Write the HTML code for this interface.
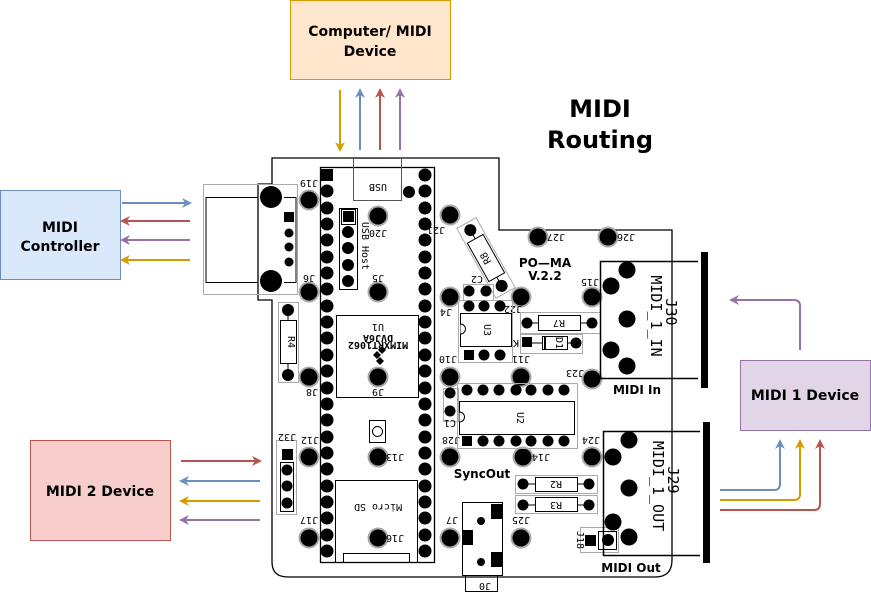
<!DOCTYPE html>
<html><head><meta charset="utf-8"><style>
body{margin:0;background:#fff}
svg{display:block}
.t{font-family:"DejaVu Sans","Liberation Sans",sans-serif;font-weight:bold}
.s{font-family:"DejaVu Sans Mono","Liberation Mono",monospace;font-size:10px}
</style></head><body>
<svg width="871" height="598" viewBox="0 0 871 598" xmlns="http://www.w3.org/2000/svg">
<defs>
<g id="pad"><circle r="10.5" fill="#aaa"/><circle r="8.5" fill="#000"/></g>
<marker id="ab" markerWidth="10" markerHeight="10" refX="8" refY="5" orient="auto" markerUnits="userSpaceOnUse"><path d="M0,0 L10,5 L0,10 L3,5 Z" fill="#6c8ebf"/></marker>
<marker id="ar" markerWidth="10" markerHeight="10" refX="8" refY="5" orient="auto" markerUnits="userSpaceOnUse"><path d="M0,0 L10,5 L0,10 L3,5 Z" fill="#b85450"/></marker>
<marker id="ap" markerWidth="10" markerHeight="10" refX="8" refY="5" orient="auto" markerUnits="userSpaceOnUse"><path d="M0,0 L10,5 L0,10 L3,5 Z" fill="#9673a6"/></marker>
<marker id="ao" markerWidth="10" markerHeight="10" refX="8" refY="5" orient="auto" markerUnits="userSpaceOnUse"><path d="M0,0 L10,5 L0,10 L3,5 Z" fill="#d79b00"/></marker>
</defs>

<rect x="290.5" y="0.5" width="160" height="79" fill="#ffe6cc" stroke="#d79b00"/>
<text class="t" x="370" y="36" font-size="14" text-anchor="middle">Computer/ MIDI</text>
<text class="t" x="370" y="56" font-size="14" text-anchor="middle">Device</text>
<rect x="0.5" y="190.5" width="120" height="89" fill="#dae8fc" stroke="#6c8ebf"/>
<text class="t" x="60" y="232" font-size="14" text-anchor="middle">MIDI</text>
<text class="t" x="60" y="251" font-size="14" text-anchor="middle">Controller</text>
<rect x="30.5" y="440.5" width="140" height="100" fill="#f8cecc" stroke="#b85450"/>
<text class="t" x="100" y="496" font-size="14" text-anchor="middle">MIDI 2 Device</text>
<rect x="740.5" y="360.5" width="130" height="70" fill="#e1d5e7" stroke="#9673a6"/>
<text class="t" x="805" y="400" font-size="14" text-anchor="middle">MIDI 1 Device</text>

<text class="t" x="600" y="117" font-size="24" text-anchor="middle">MIDI</text>
<text class="t" x="600" y="148" font-size="24" text-anchor="middle">Routing</text>

<g stroke-width="2" fill="none">
<line x1="340" y1="90" x2="340" y2="150" stroke="#d79b00" marker-end="url(#ao)"/>
<line x1="360" y1="150" x2="360" y2="90" stroke="#6c8ebf" marker-end="url(#ab)"/>
<line x1="380" y1="150" x2="380" y2="90" stroke="#b85450" marker-end="url(#ar)"/>
<line x1="400" y1="150" x2="400" y2="90" stroke="#9673a6" marker-end="url(#ap)"/>
<line x1="122" y1="203" x2="190" y2="203" stroke="#6c8ebf" marker-end="url(#ab)"/>
<line x1="190" y1="221" x2="122" y2="221" stroke="#b85450" marker-end="url(#ar)"/>
<line x1="190" y1="240" x2="122" y2="240" stroke="#9673a6" marker-end="url(#ap)"/>
<line x1="190" y1="260" x2="122" y2="260" stroke="#d79b00" marker-end="url(#ao)"/>
<line x1="181" y1="461" x2="260" y2="461" stroke="#b85450" marker-end="url(#ar)"/>
<line x1="260" y1="481" x2="181" y2="481" stroke="#6c8ebf" marker-end="url(#ab)"/>
<line x1="260" y1="501" x2="181" y2="501" stroke="#d79b00" marker-end="url(#ao)"/>
<line x1="260" y1="520" x2="181" y2="520" stroke="#9673a6" marker-end="url(#ap)"/>
<path d="M800,350 V306 Q800,300 794,300 H731" stroke="#9673a6" marker-end="url(#ap)"/>
<path d="M720,490 H774 Q780,490 780,484 V441" stroke="#6c8ebf" marker-end="url(#ab)"/>
<path d="M720,500 H794 Q800,500 800,494 V441" stroke="#d79b00" marker-end="url(#ao)"/>
<path d="M720,510 H814 Q820,510 820,504 V441" stroke="#b85450" marker-end="url(#ar)"/>
</g>

<path d="M272,184 V158 H499 V230 H672 V560 Q672,577 655,577 H288 Q272,577 272,562 V300 H258 V184 Z" fill="none" stroke="#000" stroke-width="1.3"/>

<rect x="203.5" y="184.5" width="94" height="110" fill="none" stroke="#aaa"/>
<path d="M258,197.5 H206 V282.5 H258 M284,197.5 H296 V282.5 H284" fill="none" stroke="#000"/>
<circle cx="271" cy="197" r="11"/><circle cx="271" cy="281" r="11"/>
<rect x="284" y="212" width="10" height="10"/>
<circle cx="289" cy="233" r="4.5"/><circle cx="289" cy="247" r="4.5"/><circle cx="289" cy="262" r="4.5"/>

<rect x="320.5" y="167.5" width="114" height="395" fill="none" stroke="#000" stroke-width="1.3"/>
<rect x="353.5" y="158.5" width="48" height="42" fill="none" stroke="#555"/>
<text class="s" x="378" y="190" text-anchor="middle" transform="rotate(180 378 187)">USB</text>
<circle cx="409" cy="192" r="6"/>
<g>
<rect x="321" y="169" width="12" height="12"/>
<circle cx="327" cy="191" r="6.5"/><circle cx="327" cy="208" r="6.5"/><circle cx="327" cy="224" r="6.5"/><circle cx="327" cy="240" r="6.5"/><circle cx="327" cy="257" r="6.5"/><circle cx="327" cy="273" r="6.5"/><circle cx="327" cy="289" r="6.5"/><circle cx="327" cy="306" r="6.5"/><circle cx="327" cy="322" r="6.5"/><circle cx="327" cy="338" r="6.5"/><circle cx="327" cy="355" r="6.5"/><circle cx="327" cy="371" r="6.5"/><circle cx="327" cy="388" r="6.5"/><circle cx="327" cy="404" r="6.5"/><circle cx="327" cy="420" r="6.5"/><circle cx="327" cy="437" r="6.5"/><circle cx="327" cy="453" r="6.5"/><circle cx="327" cy="469" r="6.5"/><circle cx="327" cy="486" r="6.5"/><circle cx="327" cy="502" r="6.5"/><circle cx="327" cy="518" r="6.5"/><circle cx="327" cy="535" r="6.5"/><circle cx="327" cy="551" r="6.5"/>
<circle cx="425" cy="175" r="6.5"/><circle cx="425" cy="191" r="6.5"/><circle cx="425" cy="208" r="6.5"/><circle cx="425" cy="224" r="6.5"/><circle cx="425" cy="240" r="6.5"/><circle cx="425" cy="257" r="6.5"/><circle cx="425" cy="273" r="6.5"/><circle cx="425" cy="289" r="6.5"/><circle cx="425" cy="306" r="6.5"/><circle cx="425" cy="322" r="6.5"/><circle cx="425" cy="338" r="6.5"/><circle cx="425" cy="355" r="6.5"/><circle cx="425" cy="371" r="6.5"/><circle cx="425" cy="388" r="6.5"/><circle cx="425" cy="404" r="6.5"/><circle cx="425" cy="420" r="6.5"/><circle cx="425" cy="437" r="6.5"/><circle cx="425" cy="453" r="6.5"/><circle cx="425" cy="469" r="6.5"/><circle cx="425" cy="486" r="6.5"/><circle cx="425" cy="502" r="6.5"/><circle cx="425" cy="518" r="6.5"/><circle cx="425" cy="535" r="6.5"/><circle cx="425" cy="551" r="6.5"/>
</g>
<rect x="339.5" y="208.5" width="18" height="81" fill="none" stroke="#000"/>
<rect x="341.5" y="209.5" width="14" height="15" fill="none" stroke="#000"/>
<rect x="343" y="211" width="11" height="11"/>
<circle cx="348" cy="232" r="6"/><circle cx="348" cy="248" r="6"/><circle cx="348" cy="265" r="6"/><circle cx="348" cy="281" r="6"/>
<text class="s" x="362" y="246" transform="rotate(90 362 246)" text-anchor="middle" font-size="10">USB Host</text>
<rect x="336.5" y="315.5" width="82" height="82" fill="none" stroke="#000"/>
<text class="s" x="378" y="330" text-anchor="middle" transform="rotate(180 378 327)">U1</text>
<text class="s" x="378" y="341" text-anchor="middle" font-size="7" font-weight="bold" transform="rotate(180 378 338)">DVJ6A</text>
<text class="s" x="378" y="348" text-anchor="middle" font-size="7" font-weight="bold" transform="rotate(180 378 345)">MIMXRT1062</text>
<path d="M373,355 l4,-4 l4,4 l-4,4z M378,350 l4,-4 l4,4 l-4,4z M376,361 l4,-4 l4,4 l-4,4z" fill="#000"/>
<rect x="369.5" y="420.5" width="16" height="22" fill="none" stroke="#000"/>
<circle cx="377.5" cy="431.5" r="5" fill="none" stroke="#000"/>
<rect x="335.5" y="480.5" width="82" height="82" fill="none" stroke="#000"/>
<rect x="343.5" y="553.5" width="66" height="9" fill="none" stroke="#000"/>
<text class="s" x="378" y="510" text-anchor="middle" transform="rotate(180 378 507)">Micro SD</text>

<rect x="278.5" y="302.5" width="20" height="80" fill="none" stroke="#aaa"/>
<rect x="280.5" y="320.5" width="16" height="43" fill="none" stroke="#000"/>
<line x1="288" y1="312" x2="288" y2="320" stroke="#000"/><line x1="288" y1="364" x2="288" y2="372" stroke="#000"/>
<circle cx="288" cy="310" r="6"/><circle cx="288" cy="375" r="6"/>
<text class="s" x="288" y="342" text-anchor="middle" transform="rotate(90 288 342)">R4</text>
<rect x="276.5" y="440.5" width="20" height="74" fill="none" stroke="#aaa"/>
<rect x="280.5" y="462.5" width="13" height="49" fill="none" stroke="#000"/>
<rect x="282" y="449" width="11" height="11"/>
<circle cx="287" cy="470" r="5.5"/><circle cx="287" cy="486" r="5.5"/><circle cx="287" cy="503" r="5.5"/>
<text class="s" x="287" y="440" text-anchor="middle" transform="rotate(180 287 437)">J32</text>

<use href="#pad" x="309" y="200"/><use href="#pad" x="378" y="216"/><use href="#pad" x="450" y="215"/>
<use href="#pad" x="538" y="237"/><use href="#pad" x="608" y="237"/>
<use href="#pad" x="309" y="292"/><use href="#pad" x="378" y="292"/><use href="#pad" x="450" y="297"/><use href="#pad" x="521" y="297"/><use href="#pad" x="592" y="297"/>
<use href="#pad" x="309" y="377"/><use href="#pad" x="378" y="377"/><use href="#pad" x="450" y="377"/><use href="#pad" x="521" y="377"/><use href="#pad" x="592" y="379"/>
<use href="#pad" x="309" y="457"/><use href="#pad" x="378" y="457"/><use href="#pad" x="450" y="457"/><use href="#pad" x="523" y="457"/><use href="#pad" x="592" y="457"/>
<use href="#pad" x="309" y="538"/><use href="#pad" x="378" y="538"/><use href="#pad" x="450" y="538"/><use href="#pad" x="521" y="538"/>
<g class="s">
<text x="309" y="186" text-anchor="middle" transform="rotate(180 309 183)">J19</text>
<text x="378" y="236" text-anchor="middle" transform="rotate(180 378 233)">J20</text>
<text x="436" y="233" text-anchor="middle" transform="rotate(180 436 230)">J21</text>
<text x="556" y="240" text-anchor="middle" transform="rotate(180 556 237)">J27</text>
<text x="626" y="240" text-anchor="middle" transform="rotate(180 626 237)">J26</text>
<text x="309" y="281" text-anchor="middle" transform="rotate(180 309 278)">J6</text>
<text x="378" y="281" text-anchor="middle" transform="rotate(180 378 278)">J5</text>
<text x="446" y="315" text-anchor="middle" transform="rotate(180 446 312)">J4</text>
<text x="513" y="312" text-anchor="middle" transform="rotate(180 513 309)">J22</text>
<text x="590" y="285" text-anchor="middle" transform="rotate(180 590 282)">J15</text>
<text x="312" y="395" text-anchor="middle" transform="rotate(180 312 392)">J8</text>
<text x="378" y="395" text-anchor="middle" transform="rotate(180 378 392)">J9</text>
<text x="448" y="362" text-anchor="middle" transform="rotate(180 448 359)">J10</text>
<text x="521" y="362" text-anchor="middle" transform="rotate(180 521 359)">J11</text>
<text x="575" y="376" text-anchor="middle" transform="rotate(180 575 373)">J23</text>
<text x="310" y="443" text-anchor="middle" transform="rotate(180 310 440)">J12</text>
<text x="395" y="460" text-anchor="middle" transform="rotate(180 395 457)">J13</text>
<text x="451" y="443" text-anchor="middle" transform="rotate(180 451 440)">J28</text>
<text x="541" y="460" text-anchor="middle" transform="rotate(180 541 457)">J14</text>
<text x="591" y="443" text-anchor="middle" transform="rotate(180 591 440)">J24</text>
<text x="309" y="523" text-anchor="middle" transform="rotate(180 309 520)">J17</text>
<text x="395" y="541" text-anchor="middle" transform="rotate(180 395 538)">J16</text>
<text x="452" y="523" text-anchor="middle" transform="rotate(180 452 520)">J7</text>
<text x="521" y="523" text-anchor="middle" transform="rotate(180 521 520)">J25</text>
</g>

<g transform="translate(486,258) rotate(60.7)">
<rect x="-40" y="-11" width="80" height="22" fill="none" stroke="#aaa"/>
<rect x="-22" y="-9" width="44" height="18" fill="none" stroke="#000"/>
<line x1="-30" y1="0" x2="-22" y2="0" stroke="#000"/><line x1="22" y1="0" x2="30" y2="0" stroke="#000"/>
<circle cx="-32" cy="0" r="6"/><circle cx="32" cy="0" r="6"/>
<text class="s" x="0" y="3" text-anchor="middle" transform="rotate(180 0 0)">R8</text>
</g>
<rect x="463.5" y="284.5" width="30" height="16" fill="none" stroke="#aaa"/>
<circle cx="469" cy="291" r="5.5"/><circle cx="486" cy="291" r="5.5"/>
<text class="s" x="477" y="282" text-anchor="middle" transform="rotate(180 477 279)">C2</text>
<rect x="458.5" y="300.5" width="54" height="62" fill="none" stroke="#aaa"/>
<rect x="460.5" y="313.5" width="51" height="33" fill="none" stroke="#000"/>
<path d="M460.5,324 A5,5 0 0 1 460.5,334" fill="#fff" stroke="#000"/>
<circle cx="469" cy="306" r="5.5"/><circle cx="484" cy="306" r="5.5"/><circle cx="500" cy="306" r="5.5"/>
<rect x="464" y="350" width="10" height="10"/><circle cx="484" cy="355" r="5.5"/><circle cx="500" cy="355" r="5.5"/>
<text class="s" x="484" y="330" text-anchor="middle" transform="rotate(90 484 330)">U3</text>
<rect x="520.5" y="312.5" width="80" height="21" fill="none" stroke="#aaa"/>
<rect x="538.5" y="315.5" width="42" height="15" fill="none" stroke="#000"/>
<line x1="527" y1="323" x2="538" y2="323" stroke="#000"/><line x1="581" y1="323" x2="592" y2="323" stroke="#000"/>
<circle cx="527" cy="323" r="5.5"/><circle cx="592" cy="323" r="5.5"/>
<text class="s" x="559" y="326" text-anchor="middle" transform="rotate(180 559 323)">R7</text>
<rect x="520.5" y="334.5" width="62" height="19" fill="none" stroke="#aaa"/>
<rect x="522" y="337" width="10" height="10"/>
<rect x="542.5" y="336.5" width="25" height="13" fill="none" stroke="#000"/>
<line x1="545" y1="336" x2="545" y2="350" stroke="#000" stroke-width="2"/>
<line x1="532" y1="343" x2="542" y2="343" stroke="#000"/><line x1="568" y1="343" x2="572" y2="343" stroke="#000"/>
<circle cx="576" cy="343" r="5.5"/>
<text class="s" x="556" y="343" text-anchor="middle" transform="rotate(90 556 343)" font-size="9">D1</text>
<text class="s" x="516" y="346" text-anchor="middle" font-size="9" transform="rotate(180 516 343)">K</text>
<text class="t" x="545" y="267" font-size="12" text-anchor="middle">PO—MA</text>
<text class="t" x="545" y="280" font-size="12" text-anchor="middle">V.2.2</text>

<rect x="443.5" y="388.5" width="15" height="33" fill="none" stroke="#aaa"/>
<circle cx="450" cy="393" r="5.5"/><circle cx="450" cy="411" r="5.5"/>
<text class="s" x="450" y="426" text-anchor="middle" transform="rotate(180 450 423)">C1</text>
<rect x="457.5" y="383.5" width="120" height="65" fill="none" stroke="#aaa"/>
<rect x="459.5" y="401.5" width="115" height="33" fill="none" stroke="#000"/>
<path d="M459.5,412 A5,5 0 0 1 459.5,422" fill="#fff" stroke="#000"/>
<circle cx="467" cy="390" r="5.5"/><circle cx="483" cy="390" r="5.5"/><circle cx="499" cy="390" r="5.5"/><circle cx="516" cy="390" r="5.5"/><circle cx="531" cy="390" r="5.5"/><circle cx="548" cy="390" r="5.5"/><circle cx="564" cy="390" r="5.5"/>
<rect x="462" y="436" width="10" height="10"/><circle cx="483" cy="441" r="5.5"/><circle cx="499" cy="441" r="5.5"/><circle cx="516" cy="441" r="5.5"/><circle cx="531" cy="441" r="5.5"/><circle cx="548" cy="441" r="5.5"/><circle cx="564" cy="441" r="5.5"/>
<text class="s" x="517" y="418" text-anchor="middle" font-size="12" transform="rotate(90 517 418)">U2</text>
<text class="t" x="482" y="478" font-size="12" text-anchor="middle">SyncOut</text>

<rect x="515.5" y="475.5" width="82" height="18" fill="none" stroke="#aaa"/>
<rect x="535.5" y="477.5" width="42" height="14" fill="none" stroke="#000"/>
<line x1="523" y1="484" x2="535" y2="484" stroke="#000"/><line x1="578" y1="484" x2="588" y2="484" stroke="#000"/>
<circle cx="523" cy="484" r="5.5"/><circle cx="589" cy="484" r="5.5"/>
<text class="s" x="556" y="487" text-anchor="middle" transform="rotate(180 556 484)">R2</text>
<rect x="515.5" y="495.5" width="82" height="18" fill="none" stroke="#aaa"/>
<rect x="535.5" y="497.5" width="42" height="14" fill="none" stroke="#000"/>
<line x1="523" y1="505" x2="535" y2="505" stroke="#000"/><line x1="578" y1="505" x2="588" y2="505" stroke="#000"/>
<circle cx="523" cy="505" r="5.5"/><circle cx="589" cy="505" r="5.5"/>
<text class="s" x="556" y="508" text-anchor="middle" transform="rotate(180 556 505)">R3</text>

<rect x="462.5" y="502.5" width="40" height="73" fill="none" stroke="#000"/>
<rect x="465.5" y="575.5" width="32" height="16" fill="none" stroke="#000"/>
<text class="s" x="485" y="589" text-anchor="middle" transform="rotate(180 485 586)">J0</text>
<rect x="491" y="504" width="11" height="15"/><rect x="462" y="530" width="11" height="15"/><rect x="491" y="552" width="11" height="15"/>
<circle cx="481" cy="521" r="4"/><circle cx="481" cy="562" r="4"/>

<rect x="580.5" y="527.5" width="38" height="25" fill="none" stroke="#aaa"/>
<rect x="598.5" y="531.5" width="18" height="18" fill="none" stroke="#000"/>
<rect x="585" y="535" width="11" height="11"/><circle cx="608" cy="540" r="6"/>
<text class="s" x="577" y="540" text-anchor="middle" font-size="9" transform="rotate(90 577 540)">J18</text>

<path d="M698,261.5 H600.5 V378.5 H698" fill="none" stroke="#000" stroke-width="1.5"/>
<rect x="701" y="252" width="7" height="136"/>
<circle cx="627" cy="270" r="8.5"/><circle cx="611" cy="286" r="8.5"/><circle cx="627" cy="319" r="8.5"/><circle cx="611" cy="350" r="8.5"/><circle cx="627" cy="366" r="8.5"/>
<text x="666" y="312" font-family="DejaVu Sans Mono,Liberation Mono,monospace" font-size="15" text-anchor="middle" transform="rotate(90 666 312)">J30</text>
<text x="651" y="316" font-family="DejaVu Sans Mono,Liberation Mono,monospace" font-size="15" text-anchor="middle" transform="rotate(90 651 316)">MIDI_1_IN</text>
<text class="t" x="637" y="394" font-size="12" text-anchor="middle">MIDI In</text>
<path d="M700,431.5 H603.5 V555.5 H700" fill="none" stroke="#000" stroke-width="1.5"/>
<rect x="703" y="422" width="7" height="141"/>
<circle cx="629" cy="440" r="8.5"/><circle cx="613" cy="457" r="8.5"/><circle cx="629" cy="488" r="8.5"/><circle cx="613" cy="522" r="8.5"/><circle cx="629" cy="537" r="8.5"/>
<text x="668" y="480" font-family="DejaVu Sans Mono,Liberation Mono,monospace" font-size="15" text-anchor="middle" transform="rotate(90 668 480)">J29</text>
<text x="653" y="486" font-family="DejaVu Sans Mono,Liberation Mono,monospace" font-size="15" text-anchor="middle" transform="rotate(90 653 486)">MIDI_1_OUT</text>
<text class="t" x="631" y="572" font-size="12" text-anchor="middle">MIDI Out</text>
</svg>
</body></html>
